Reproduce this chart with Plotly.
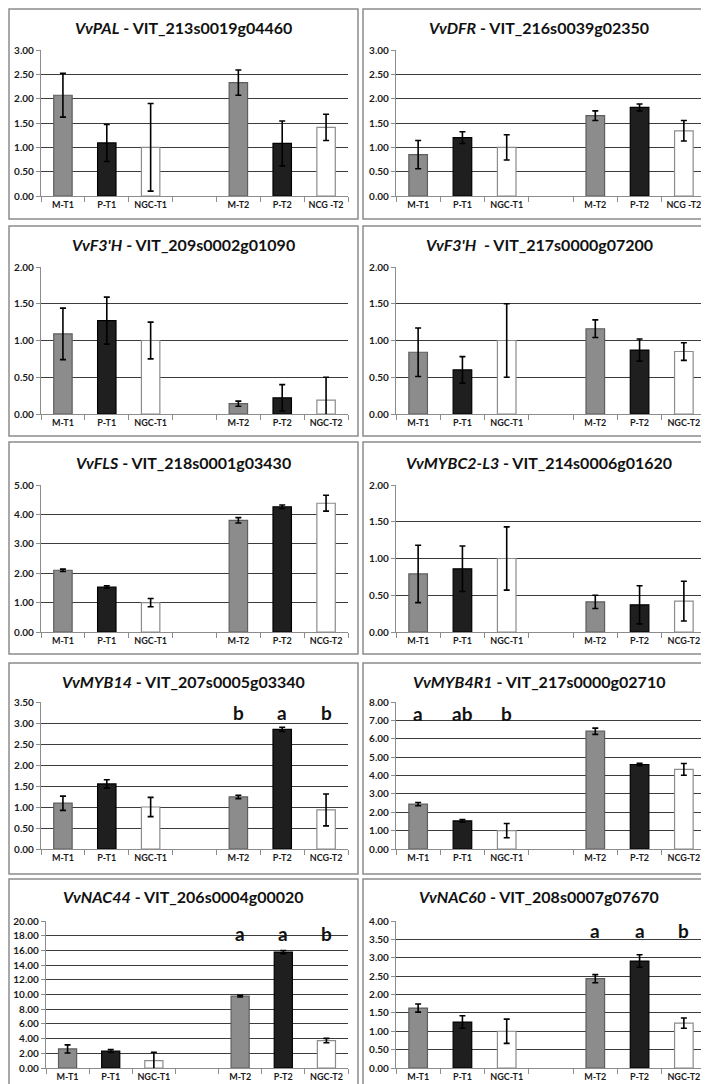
import plotly.graph_objects as go

W, H = 709, 1084

# ---------------- data ----------------
genes = ["VvPAL", "VvDFR", "VvF3'H", "VvF3'H", "VvFLS", "VvMYBC2-L3",
         "VvMYB14", "VvMYB4R1", "VvNAC44", "VvNAC60"]
vit_ids = ["VIT_213s0019g04460", "VIT_216s0039g02350", "VIT_209s0002g01090",
           "VIT_217s0000g07200", "VIT_218s0001g03430", "VIT_214s0006g01620",
           "VIT_207s0005g03340", "VIT_217s0000g02710", "VIT_206s0004g00020",
           "VIT_208s0007g07670"]
y_max = [3.0, 3.0, 2.0, 2.0, 5.0, 2.0, 3.5, 8.0, 20.0, 4.0]
y_step = [0.5, 0.5, 0.5, 0.5, 1.0, 0.5, 0.5, 1.0, 2.0, 0.5]

labels_a = ["M-T1", "P-T1", "NGC-T1", " ", "M-T2", "P-T2", "NCG -T2"]
labels_b = ["M-T1", "P-T1", "NGC-T1", " ", "M-T2", "P-T2", "NGC-T2"]
labels_c = ["M-T1", "P-T1", "NGC-T1", " ", "M-T2", "P-T2", "NCG-T2"]
panel_labels = [labels_a, labels_a, labels_b, labels_b, labels_c, labels_c,
                labels_c, labels_c, labels_b, labels_b]

pal_mean = [2.07, 1.09, 1.00, 2.33, 1.08, 1.41]
pal_err = [0.45, 0.38, 0.90, 0.26, 0.46, 0.27]
dfr_mean = [0.85, 1.20, 1.00, 1.65, 1.82, 1.34]
dfr_err = [0.29, 0.12, 0.26, 0.10, 0.07, 0.21]
f3h9_mean = [1.09, 1.27, 1.00, 0.14, 0.22, 0.19]
f3h9_err = [0.35, 0.32, 0.25, 0.035, 0.18, 0.31]
f3h17_mean = [0.84, 0.60, 1.00, 1.16, 0.87, 0.85]
f3h17_err = [0.33, 0.18, 0.50, 0.12, 0.15, 0.12]
fls_mean = [2.10, 1.53, 1.00, 3.80, 4.26, 4.38]
fls_err = [0.04, 0.04, 0.14, 0.09, 0.06, 0.27]
mybc2_mean = [0.79, 0.86, 1.00, 0.41, 0.37, 0.42]
mybc2_err = [0.39, 0.31, 0.43, 0.09, 0.26, 0.27]
myb14_mean = [1.09, 1.55, 1.00, 1.24, 2.85, 0.93]
myb14_err = [0.17, 0.10, 0.23, 0.04, 0.05, 0.38]
myb4r1_mean = [2.44, 1.53, 1.00, 6.41, 4.60, 4.33]
myb4r1_err = [0.09, 0.07, 0.39, 0.17, 0.07, 0.32]
nac44_mean = [2.59, 2.30, 1.00, 9.77, 15.77, 3.73]
nac44_err = [0.55, 0.20, 1.15, 0.12, 0.22, 0.30]
nac60_mean = [1.63, 1.25, 1.00, 2.43, 2.91, 1.22]
nac60_err = [0.11, 0.17, 0.33, 0.11, 0.17, 0.14]

means = [pal_mean, dfr_mean, f3h9_mean, f3h17_mean, fls_mean, mybc2_mean,
         myb14_mean, myb4r1_mean, nac44_mean, nac60_mean]
errs = [pal_err, dfr_err, f3h9_err, f3h17_err, fls_err, mybc2_err,
        myb14_err, myb4r1_err, nac44_err, nac60_err]

# significance letters: (panel index, bar index, letter, y level)
letter_panel = [6, 6, 6, 7, 7, 7, 8, 8, 8, 9, 9, 9]
letter_bar = [3, 4, 5, 0, 1, 2, 3, 4, 5, 3, 4, 5]
letter_text = ["b", "a", "b", "a", "ab", "b", "a", "a", "b", "a", "a", "b"]
letter_y = [3.25, 3.25, 3.25, 7.35, 7.35, 7.35, 18.3, 18.3, 18.3, 3.75, 3.75, 3.75]

# ---------------- styling / geometry ----------------
fills = ["#8c8c8c", "#1f1f1f", "#ffffff"] * 2
edges = ["#5e5e5e", "#000000", "#8c8c8c"] * 2
FONT = "Lato, Carlito, Calibri, sans-serif"

box_x = [(1, 350), (355, 707)]
box_y = [(1, 211), (218, 428), (434, 646), (655, 866), (871, 1081)]
plot_y = [(42, 188), (259, 406), (477, 624), (694, 841), (913, 1060)]
title_y = [20, 237, 455, 673, 888]
plot_x_left = [(33, 340), (33, 340), (33, 340), (33, 340), (38, 340)]
plot_x_right = [(388, 698)] * 5

fig = go.Figure()
layout = dict(width=W, height=H, margin=dict(l=0, r=0, t=0, b=0),
              paper_bgcolor="white", plot_bgcolor="white",
              showlegend=False, annotations=[], shapes=[])

bar_cats = []
for i in range(10):
    row, col = i // 2, i % 2
    n = i + 1
    xs = "x" if n == 1 else f"x{n}"
    ys = "y" if n == 1 else f"y{n}"
    labs = panel_labels[i]
    cats = [c for c in labs if c.strip()]
    bar_cats.append(cats)
    fig.add_trace(go.Bar(
        x=cats, y=means[i], width=0.42,
        marker=dict(color=fills, line=dict(color=edges, width=1.2)),
        error_y=dict(type="data", array=errs[i], visible=True,
                     color="#000000", thickness=1.6, width=3),
        xaxis=xs, yaxis=ys, showlegend=False, hoverinfo="x+y"))
    px = plot_x_left[row] if col == 0 else plot_x_right[row]
    py = plot_y[row]
    xa = dict(domain=[px[0] / W, px[1] / W], anchor=ys, type="category",
              categoryorder="array", categoryarray=labs, range=[-0.5, 6.5],
              showline=True, linecolor="#8c8c8c", linewidth=1.2,
              ticks="outside", tickson="boundaries", ticklen=5,
              tickcolor="#8c8c8c", showgrid=False, fixedrange=True,
              tickangle=0, automargin=False,
              tickfont=dict(family=FONT, size=9, color="#1a1a1a", weight="bold"))
    ya = dict(domain=[1 - py[1] / H, 1 - py[0] / H], anchor=xs,
              range=[0, y_max[i]], dtick=y_step[i], tick0=0, tickformat=".2f",
              showgrid=True, gridcolor="#3c3c3c", gridwidth=1.2,
              showline=True, linecolor="#8c8c8c", linewidth=1.2,
              ticks="outside", ticklen=4, tickcolor="#8c8c8c",
              zeroline=False, fixedrange=True, automargin=False,
              tickfont=dict(family=FONT, size=10, color="#1a1a1a", weight="bold"))
    layout["xaxis" if n == 1 else f"xaxis{n}"] = xa
    layout["yaxis" if n == 1 else f"yaxis{n}"] = ya

    bx = box_x[col]
    by = box_y[row]
    layout["shapes"].append(dict(type="rect", xref="paper", yref="paper",
                                 x0=bx[0] / W, x1=bx[1] / W,
                                 y0=1 - by[1] / H, y1=1 - by[0] / H,
                                 line=dict(color="#8c8c8c", width=1.5)))
    gap = "  " if i == 3 else " "
    layout["annotations"].append(dict(
        xref="paper", yref="paper", x=(bx[0] + bx[1]) / 2 / W,
        y=1 - title_y[row] / H, xanchor="center", yanchor="middle",
        text=f"<b><i>{genes[i]}</i>{gap}- {vit_ids[i]}</b>", showarrow=False,
        font=dict(family=FONT, size=16, color="#111")))

for p, b, t, yv in zip(letter_panel, letter_bar, letter_text, letter_y):
    n = p + 1
    layout["annotations"].append(dict(
        xref="x" if n == 1 else f"x{n}", yref="y" if n == 1 else f"y{n}",
        x=bar_cats[p][b], y=yv, text=f"<b>{t}</b>", showarrow=False,
        xanchor="center", yanchor="middle",
        font=dict(family=FONT, size=19, color="#111")))

fig.update_layout(**layout)
fig.write_html("out.html")
